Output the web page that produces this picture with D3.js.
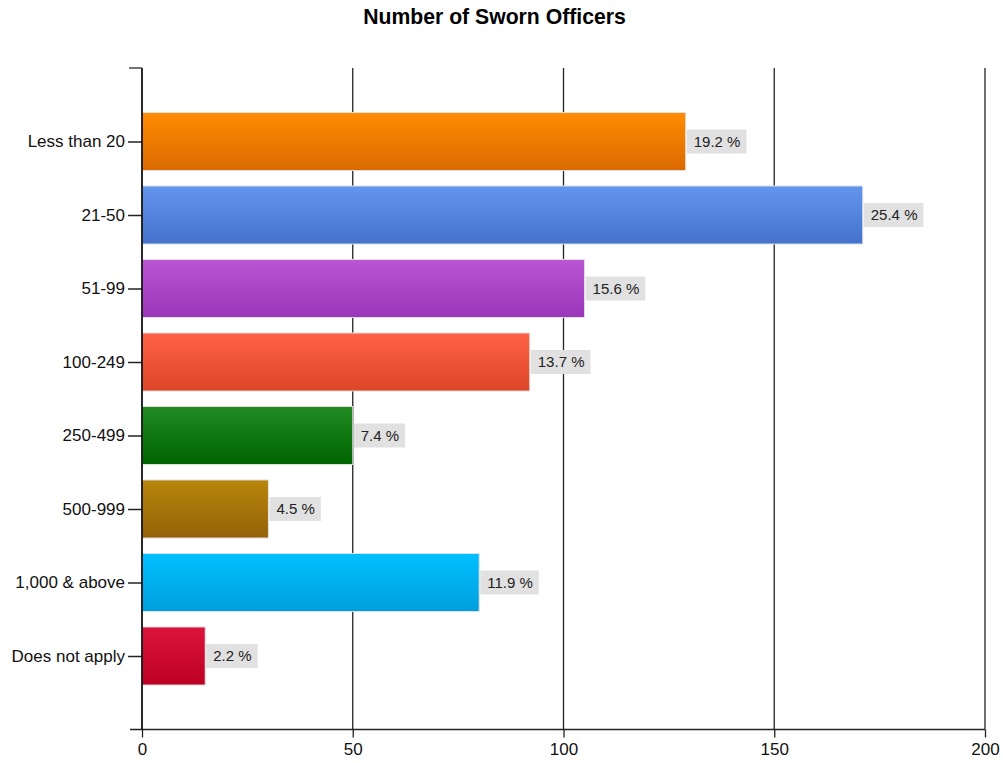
<!DOCTYPE html>
<html>
<head>
<meta charset="utf-8">
<script src="https://cdn.jsdelivr.net/npm/d3@7"></script>
<style>
  html, body { margin: 0; padding: 0; background: #fff; }
  svg { display: block; font-family: "Liberation Sans", Arial, sans-serif; }
</style>
</head>
<body>
<svg id="chart" width="1003" height="763"></svg>
<script>
// Respondents by department size (counts); percentages are derived from the total.
const categories = ["Less than 20", "21-50", "51-99", "100-249", "250-499", "500-999", "1,000 & above", "Does not apply"];
const counts = [129, 171, 105, 92, 50, 30, 80, 15];
const xTicks = [0, 50, 100, 150, 200];
const title = "Number of Sworn Officers";

// Gradient colours per bar: [top, bottom]
const barColors = [
  ["#FF8C00", "#DA6A00"],
  ["#6495ED", "#4472CC"],
  ["#BA55D3", "#9A36B9"],
  ["#FF6347", "#DC4528"],
  ["#228B22", "#006400"],
  ["#B8860B", "#956208"],
  ["#00BFFF", "#009FDC"],
  ["#DC143C", "#BC0022"]
];

const total = d3.sum(counts);
const data = categories.map((c, i) => ({
  cat: c,
  value: counts[i],
  pct: (counts[i] / total * 100).toFixed(1) + " %",
  colors: barColors[i]
}));

const svg = d3.select("#chart");
const plot = { left: 142, right: 985, top: 68, bottom: 729.5 };

const x = d3.scaleLinear().domain([0, 200]).range([plot.left, plot.right]);
const y = d3.scalePoint().domain(categories).range([plot.top, plot.bottom]).padding(1);
const barH = y.step() * 0.79;

// gradients
const defs = svg.append("defs");
data.forEach((d, i) => {
  const g = defs.append("linearGradient")
    .attr("id", "grad" + i).attr("x1", 0).attr("y1", 0).attr("x2", 0).attr("y2", 1);
  g.append("stop").attr("offset", "0%").attr("stop-color", d.colors[0]);
  g.append("stop").attr("offset", "100%").attr("stop-color", d.colors[1]);
});

// title
svg.append("text")
  .attr("x", 494.5).attr("y", 24)
  .attr("text-anchor", "middle")
  .attr("font-weight", "bold")
  .attr("font-size", 21.2)
  .attr("fill", "#000")
  .text(title);

// vertical gridlines
svg.append("g")
  .selectAll("line")
  .data(xTicks.filter(t => t > 0))
  .join("line")
  .attr("x1", d => x(d)).attr("x2", d => x(d))
  .attr("y1", plot.top).attr("y2", plot.bottom)
  .attr("stroke", "#222").attr("stroke-width", 1.3);

// bars
svg.append("g")
  .selectAll("rect")
  .data(data)
  .join("rect")
  .attr("x", x(0))
  .attr("y", d => y(d.cat) - barH / 2)
  .attr("width", d => x(d.value) - x(0))
  .attr("height", barH)
  .attr("fill", (d, i) => `url(#grad${i})`)
  .attr("stroke", "#e2e2e2")
  .attr("stroke-width", 1);

// value labels with grey boxes
const labels = svg.append("g")
  .selectAll("g")
  .data(data)
  .join("g")
  .attr("transform", d => `translate(${x(d.value) + 1},${y(d.cat)})`);

labels.append("text")
  .attr("x", 7).attr("y", 0)
  .attr("dy", "0.36em")
  .attr("font-size", 15)
  .attr("fill", "#222")
  .text(d => d.pct);

labels.each(function () {
  const g = d3.select(this);
  const w = g.select("text").node().getComputedTextLength();
  g.insert("rect", "text")
    .attr("x", 0).attr("y", -12)
    .attr("width", w + 13).attr("height", 24)
    .attr("fill", "#e1e1e1");
});

// x axis
const xAxis = svg.append("g")
  .attr("transform", `translate(0,${plot.bottom})`)
  .call(d3.axisBottom(x).tickValues(xTicks).tickSize(8).tickPadding(5).tickFormat(d3.format("d")));
xAxis.select(".domain").remove();
xAxis.append("line")
  .attr("x1", 130).attr("x2", plot.right)
  .attr("y1", 0).attr("y2", 0)
  .attr("stroke", "#222").attr("stroke-width", 1.5);
xAxis.selectAll(".tick line").attr("stroke", "#222").attr("stroke-width", 1.3);
xAxis.selectAll(".tick text")
  .attr("font-size", 17).attr("fill", "#111")
  .attr("font-family", "'Liberation Sans', Arial, sans-serif");

// y axis
const yAxis = svg.append("g")
  .attr("transform", `translate(${plot.left},0)`)
  .call(d3.axisLeft(y).tickSize(14).tickPadding(3));
yAxis.select(".domain").remove();
yAxis.append("line")
  .attr("x1", 0).attr("x2", 0)
  .attr("y1", plot.top).attr("y2", plot.bottom)
  .attr("stroke", "#111").attr("stroke-width", 1.8);
yAxis.append("line")
  .attr("x1", -13).attr("x2", 0)
  .attr("y1", plot.top).attr("y2", plot.top)
  .attr("stroke", "#444").attr("stroke-width", 1.5);
yAxis.selectAll(".tick line").attr("stroke", "#222").attr("stroke-width", 1.5);
yAxis.selectAll(".tick text")
  .attr("font-size", 17).attr("fill", "#111")
  .attr("font-family", "'Liberation Sans', Arial, sans-serif");
</script>
</body>
</html>
